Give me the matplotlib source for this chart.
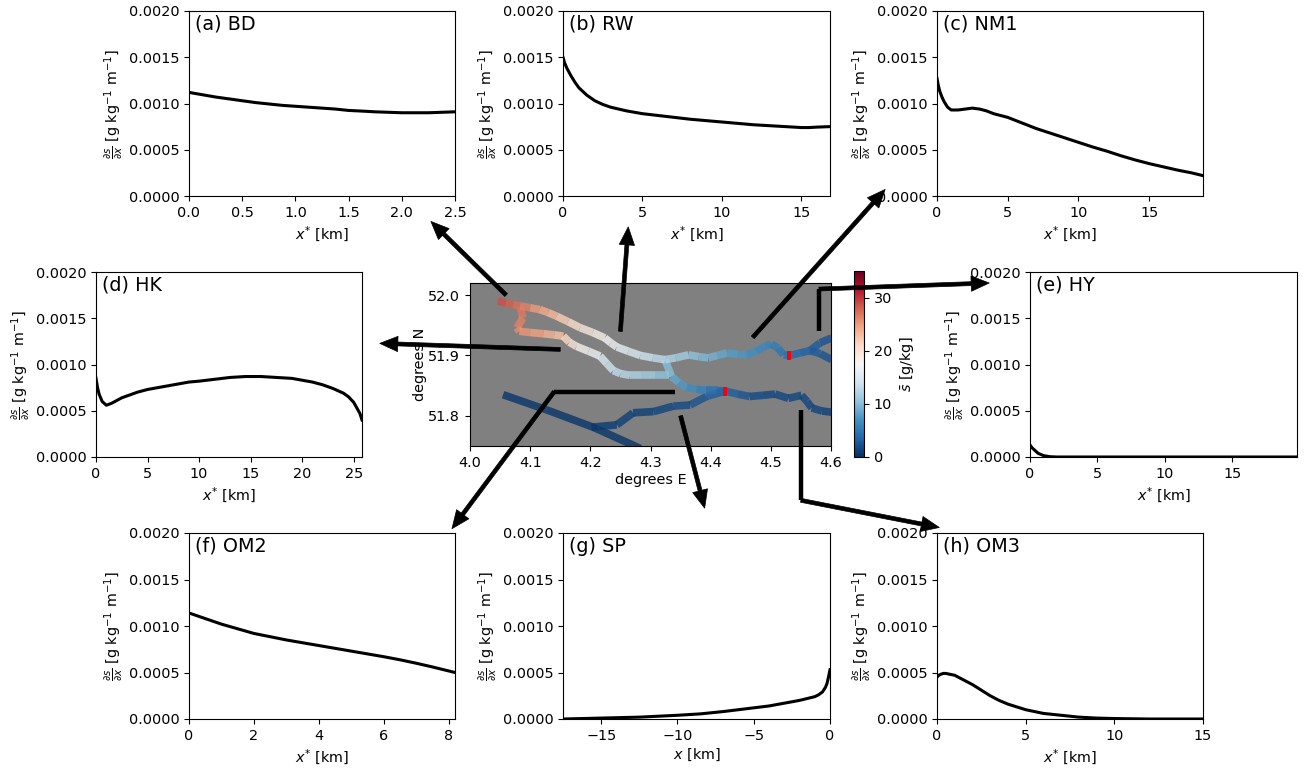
import matplotlib
matplotlib.use('Agg')
import matplotlib.pyplot as plt
import numpy as np
from matplotlib.collections import LineCollection
from matplotlib.cm import ScalarMappable
from matplotlib.colors import Normalize

W, H = 1314, 772
plt.rcParams['font.size'] = 10.4

# gradient profiles
x_a = [0, 0.125, 0.25, 0.375, 0.5, 0.625, 0.75, 0.875, 1.0, 1.125, 1.25, 1.375, 1.5, 1.625, 1.75, 1.875, 2.0, 2.125, 2.25, 2.375, 2.5]
y_a = [.00112, .001095, .00107, .00105, .00103, .00101, .000995, .00098, .00097, .00096, .00095, .00094, .000925, .000918, .00091, .000905, .0009, .0009, .0009, .000905, .00091]
x_b = [0, .1, .25, .5, .75, 1, 1.5, 2, 2.5, 3, 3.5, 4, 5, 6, 7, 8, 9, 10, 11, 12, 13, 14, 15, 15.5, 16, 16.8]
y_b = [.0015, .00144, .00138, .0013, .00123, .00117, .00109, .00103, .00099, .00096, .00094, .00092, .00089, .00087, .00085, .00083, .000815, .0008, .000785, .00077, .00076, .00075, .00074, .00074, .000745, .00075]
x_c = [0, .1, .2, .35, .5, .75, 1, 1.25, 1.5, 2, 2.5, 3, 3.5, 4, 5, 6, 7, 8, 9, 10, 11, 12, 13, 14, 15, 16, 17, 18, 18.8]
y_c = [.00127, .00119, .00113, .00107, .00102, .00096, .00093, .00093, .00093, .00094, .00095, .00094, .00092, .00089, .00085, .00079, .00073, .00068, .00063, .00058, .00053, .000485, .000435, .00039, .00035, .000315, .00028, .00025, .00022]
x_d = [0, .15, .3, .6, 1, 1.25, 1.5, 2, 2.5, 3, 4, 5, 6, 7, 8, 9, 10, 11.5, 13, 14.5, 16, 17.5, 19, 20, 21, 22, 23, 24, 24.5, 25, 25.3, 25.6, 25.8]
y_d = [.00085, .00075, .00068, .0006, .00056, .00057, .00058, .00061, .00064, .00066, .0007, .00073, .00075, .00077, .00079, .00081, .00082, .00084, .00086, .00087, .00087, .00086, .00085, .00083, .00081, .00078, .00074, .00069, .00065, .00059, .00053, .00047, .0004]
x_e = [0, .15, .3, .6, 1, 1.5, 2, 19.8]
y_e = [.00013, .0001, .00008, .00004, .000015, .000003, 0, 0]
x_f = [0, .5, 1, 1.5, 2, 2.5, 3, 3.5, 4, 4.5, 5, 5.5, 6, 6.5, 7, 7.5, 8.2]
y_f = [.00114, .00108, .00102, .00097, .00092, .000885, .00085, .00082, .00079, .00076, .00073, .0007, .00067, .000637, .0006, .00056, .0005]
x_g = [-17.5, -15, -12.5, -10, -8.5, -7, -6, -5, -4, -3, -2.5, -2, -1.5, -1, -.75, -.5, -.3, -.2, -.1, 0]
y_g = [0, .00001, .00002, .00004, .000055, .00008, .0001, .00012, .00014, .00017, .000185, .0002, .00022, .00024, .00026, .00029, .00034, .00038, .00045, .00053]
x_h = [0, .1, .2, .35, .5, .75, 1, 1.5, 2, 2.5, 3, 3.5, 4, 4.5, 5, 5.5, 6, 7, 8, 9, 10, 12, 15]
y_h = [.00045, .00047, .00048, .00049, .00049, .00048, .00047, .00042, .00037, .00031, .00025, .0002, .00016, .00013, .0001, .00008, .00006, .00004, .00002, .00001, .000005, 0, 0]

labels = ['(a) BD', '(b) RW', '(c) NM1', '(d) HK', '(e) HY', '(f) OM2', '(g) SP', '(h) OM3']
xlims = [(0, 2.5), (0, 16.8), (0, 18.8), (0, 25.8), (0, 19.8), (0, 8.2), (-17.5, 0), (0, 15)]
h_ticks = [0, 5, 10, 15]

# channels: lon, lat, salinity
ch1_lon = [4.046, 4.060, 4.072, 4.083, 4.100, 4.116, 4.130, 4.144, 4.163, 4.183, 4.204, 4.224, 4.234, 4.244, 4.263, 4.283, 4.304, 4.324, 4.342, 4.363, 4.380, 4.396, 4.411, 4.427, 4.445, 4.460, 4.476, 4.490, 4.501, 4.512, 4.521, 4.531, 4.548, 4.565]
ch1_lat = [51.990, 51.987, 51.984, 51.982, 51.979, 51.976, 51.971, 51.965, 51.956, 51.946, 51.938, 51.929, 51.921, 51.914, 51.907, 51.900, 51.896, 51.893, 51.896, 51.901, 51.898, 51.896, 51.900, 51.904, 51.902, 51.901, 51.907, 51.915, 51.919, 51.912, 51.901, 51.900, 51.904, 51.908]
ch1_sal = [29, 28.5, 27.5, 27, 25.5, 24.5, 23.5, 22.5, 21, 20, 19, 18, 17, 16.5, 15.5, 14.5, 13.5, 12.5, 12, 11, 10, 9.5, 9, 8, 7.5, 7, 6.5, 6, 5.5, 5, 4.5, 4, 3.5, 3]
ch2_lon = [4.565, 4.582, 4.601]
ch2_lat = [51.908, 51.921, 51.929]
ch2_sal = [3, 2.5, 2]
ch3_lon = [4.565, 4.582, 4.601]
ch3_lat = [51.908, 51.903, 51.893]
ch3_sal = [3, 2.5, 2]
ch4_lon = [4.083, 4.088, 4.078, 4.082, 4.100, 4.122, 4.140, 4.155, 4.165, 4.177, 4.197, 4.216, 4.227, 4.238, 4.250, 4.266, 4.285, 4.307, 4.330]
ch4_lat = [51.982, 51.962, 51.946, 51.940, 51.938, 51.936, 51.934, 51.932, 51.922, 51.915, 51.907, 51.899, 51.887, 51.875, 51.870, 51.867, 51.867, 51.867, 51.867]
ch4_sal = [27, 26.5, 26, 25.5, 25, 24, 23, 22, 20, 19, 17.5, 16, 14.5, 13.5, 13, 12.5, 12, 11, 10]
ch5_lon = [4.324, 4.335, 4.347, 4.360, 4.376, 4.393, 4.410, 4.424, 4.445, 4.465, 4.487, 4.507, 4.529, 4.551, 4.560, 4.568, 4.585, 4.601]
ch5_lat = [51.893, 51.865, 51.855, 51.847, 51.844, 51.842, 51.842, 51.841, 51.836, 51.832, 51.834, 51.836, 51.829, 51.834, 51.824, 51.813, 51.808, 51.806]
ch5_sal = [11.5, 9, 8, 7, 6, 5, 4, 3.5, 2.5, 2, 1.5, 1.5, 1.5, 1.5, 1.5, 1.5, 1, 1]
ch6_lon = [4.424, 4.393, 4.366, 4.338, 4.305, 4.271, 4.244, 4.211, 4.202]
ch6_lat = [51.841, 51.832, 51.818, 51.816, 51.807, 51.805, 51.785, 51.782, 51.781]
ch6_sal = [3.5, 2.5, 2, 1.5, 1, 1, 1, 0.5, 0.5]
ch7_lon = [4.055, 4.127, 4.205, 4.283]
ch7_lat = [51.835, 51.810, 51.781, 51.746]
ch7_sal = [0.5, 0.5, 0.5, 0.5]

mark_lon = [4.531, 4.424]
mark_lat = [51.900, 51.840]

# arrows from the map to the panels, in map coordinates
arrow_a = [(4.06, 52.0), (3.935, 52.122)]
arrow_b = [(4.25, 51.94), (4.263, 52.113)]
arrow_c = [(4.47, 51.93), (4.69, 52.175)]
arrow_d = [(4.15, 51.91), (3.85, 51.92)]
arrow_e = [(4.58, 51.94), (4.58, 52.01), (4.863, 52.02)]
arrow_f = [(4.34, 51.84), (4.14, 51.84), (3.97, 51.613)]
arrow_g = [(4.35, 51.8), (4.39, 51.647)]
arrow_h = [(4.55, 51.81), (4.55, 51.66), (4.78, 51.615)]


def add_px_axes(fig, left, top, right, bottom):
    return fig.add_axes([left / W, 1 - bottom / H, (right - left) / W, (bottom - top) / H])


def channel(ax, lon, lat, sal, cmap, norm):
    pts = np.column_stack([lon, lat])
    segs = np.stack([pts[:-1], pts[1:]], axis=1)
    sal = np.array(sal)
    lc = LineCollection(segs, cmap=cmap, norm=norm, linewidths=5.5, alpha=0.8, capstyle='butt')
    lc.set_array((sal[:-1] + sal[1:]) / 2)
    ax.add_collection(lc)


def arrow(ax, path):
    # lines up to the last bend, then the arrow head
    if len(path) > 2:
        xs = [p[0] for p in path[:-1]]
        ys = [p[1] for p in path[:-1]]
        ax.plot(xs, ys, color='k', lw=3.2, clip_on=False, solid_capstyle='butt', solid_joinstyle='miter', zorder=20)
    ax.annotate('', xy=path[-1], xytext=path[-2], annotation_clip=False, zorder=20,
                arrowprops=dict(facecolor='k', edgecolor='k', width=2.8, headwidth=11, headlength=13, shrink=0, lw=0.5))


fig = plt.figure(figsize=(W / 100, H / 100), dpi=100)

boxes = [(189, 11, 455, 196), (563, 11, 830, 196), (937, 11, 1203, 196),
         (96, 272, 362, 457), (1030, 272, 1297, 457),
         (189, 533, 455, 719), (563, 533, 830, 719), (937, 533, 1203, 719)]
curves = [(x_a, y_a), (x_b, y_b), (x_c, y_c), (x_d, y_d), (x_e, y_e), (x_f, y_f), (x_g, y_g), (x_h, y_h)]

for i in range(8):
    ax = add_px_axes(fig, *boxes[i])
    ax.plot(curves[i][0], curves[i][1], color='k', lw=2.2)
    ax.set_xlim(xlims[i])
    ax.set_ylim(0, 0.002)
    ax.set_yticks([0, .0005, .001, .0015, .002])
    ax.text(0.024, 0.93, labels[i], transform=ax.transAxes, fontsize=13.8, va='center')
    ax.set_ylabel(r'$\frac{\partial s}{\partial x}$ [g kg$^{-1}$ m$^{-1}$]', labelpad=2.5)
    ax.set_xlabel('$x$ [km]' if labels[i] == '(g) SP' else '$x^{*}$ [km]', labelpad=3)
    if labels[i] == '(h) OM3':
        ax.set_xticks(h_ticks)

cmap = plt.get_cmap('RdBu_r')
norm = Normalize(0, 35)

ax_map = add_px_axes(fig, 470, 283, 831, 446)
ax_map.set_zorder(10)
ax_map.set_facecolor('gray')
channel(ax_map, ch7_lon, ch7_lat, ch7_sal, cmap, norm)
channel(ax_map, ch6_lon, ch6_lat, ch6_sal, cmap, norm)
channel(ax_map, ch5_lon, ch5_lat, ch5_sal, cmap, norm)
channel(ax_map, ch4_lon, ch4_lat, ch4_sal, cmap, norm)
channel(ax_map, ch3_lon, ch3_lat, ch3_sal, cmap, norm)
channel(ax_map, ch2_lon, ch2_lat, ch2_sal, cmap, norm)
channel(ax_map, ch1_lon, ch1_lat, ch1_sal, cmap, norm)
for lo, la in zip(mark_lon, mark_lat):
    ax_map.plot([lo, lo], [la - 0.008, la + 0.008], color='red', lw=2.9, solid_capstyle='butt')

ax_map.set_xlim(4.0, 4.6)
ax_map.set_ylim(51.75, 52.02)
ax_map.set_xticks([4.0, 4.1, 4.2, 4.3, 4.4, 4.5, 4.6])
ax_map.set_yticks([51.8, 51.9, 52.0])
ax_map.set_xlabel('degrees E', labelpad=2)
ax_map.set_ylabel('degrees N', labelpad=1)
for path in [arrow_a, arrow_b, arrow_c, arrow_d, arrow_e, arrow_f, arrow_g, arrow_h]:
    arrow(ax_map, path)

cax = add_px_axes(fig, 854, 271, 864, 457)
cb = fig.colorbar(ScalarMappable(norm=norm, cmap=cmap), cax=cax)
cb.set_ticks([0, 10, 20, 30])
cb.set_label(r'$\bar{s}$ [g/kg]')

fig.savefig('out.png', dpi=100)
